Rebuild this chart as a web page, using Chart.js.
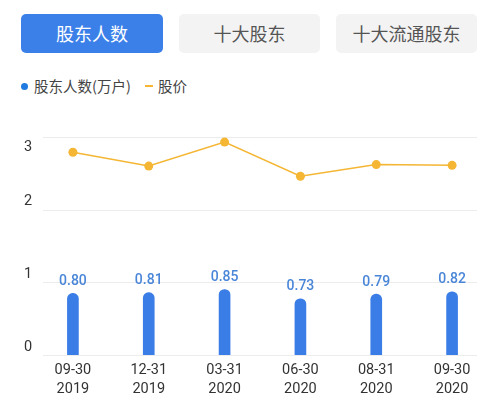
<!DOCTYPE html>
<html><head><meta charset="utf-8">
<script src="https://cdn.jsdelivr.net/npm/chart.js@4"></script>
<style>
html,body{margin:0;padding:0;background:#fff;width:499px;height:405px;overflow:hidden;font-family:"Noto Sans CJK SC",sans-serif;}
.btn{position:absolute;top:14px;height:39px;border-radius:5px;font-size:18px;line-height:39px;text-align:center;}
.b1{left:21px;width:142px;background:#3b80e8;color:#fff;}
.b2{left:179px;width:141px;background:#f3f3f3;color:#555;}
.b3{left:336px;width:141px;background:#f3f3f3;color:#555;}
.leg{position:absolute;top:76px;font-size:14.5px;color:#444;line-height:20px;}
#wrap{position:absolute;left:0;top:110px;width:499px;height:295px;}
</style></head><body>
<div class="btn b1">股东人数</div>
<div class="btn b2">十大股东</div>
<div class="btn b3">十大流通股东</div>
<div style="position:absolute;left:21px;top:83px;width:7px;height:7px;border-radius:50%;background:#1f7be0"></div>
<div class="leg" style="left:34px">股东人数(万户)</div>
<div style="position:absolute;left:145px;top:85px;width:8px;height:2px;background:#f4b633"></div>
<div class="leg" style="left:158px">股价</div>
<div id="wrap"><canvas id="c"></canvas></div>
<script>
const categories = [["09-30","2019"],["12-31","2019"],["03-31","2020"],["06-30","2020"],["08-31","2020"],["09-30","2020"]];
const holders = [0.80,0.81,0.85,0.73,0.79,0.82];
const price = [2.79,2.60,2.93,2.46,2.62,2.61];
const yTicks = [0,1,2,3];

const overlay = {
  id:'overlay',
  beforeDatasetsDraw(chart){
    const ctx=chart.ctx, y=chart.scales.y;
    ctx.save();
    ctx.strokeStyle='#ececec';ctx.lineWidth=1;
    yTicks.forEach(v=>{const py=Math.round(y.getPixelForValue(v))+0.5;ctx.beginPath();ctx.moveTo(43,py);ctx.lineTo(477,py);ctx.stroke();});
    ctx.fillStyle='#333';ctx.font='14.5px Roboto, "Noto Sans CJK SC"';ctx.textAlign='center';ctx.textBaseline='middle';
    yTicks.forEach((v,i)=>{const py=y.getPixelForValue(v)+(i===yTicks.length-1?10:-8);ctx.fillText(String(v),28,py);});
    ctx.restore();
  },
  afterDatasetsDraw(chart){
    const ctx=chart.ctx, meta=chart.getDatasetMeta(0);
    ctx.save();
    ctx.fillStyle='#4a86d8';ctx.font='500 14px Roboto, "Noto Sans CJK SC"';ctx.textAlign='center';ctx.textBaseline='middle';
    meta.data.forEach((el,i)=>{ctx.fillText(holders[i].toFixed(2),el.x,el.y-12);});
    ctx.restore();
  }
};

new Chart(document.getElementById('c'),{
  data:{labels:categories,datasets:[
    {type:'bar',data:holders,yAxisID:'y1',backgroundColor:'#3a7de6',barThickness:11,borderRadius:{topLeft:6,topRight:6},borderSkipped:'bottom',order:2},
    {type:'line',data:price,yAxisID:'y',borderColor:'#f4b633',backgroundColor:'#f4b633',borderWidth:1.5,pointRadius:4.5,pointBackgroundColor:'#f4b633',pointBorderWidth:0,tension:0,order:1}
  ]},
  options:{responsive:true,maintainAspectRatio:false,animation:false,
    layout:{padding:{top:27,right:9,left:0,bottom:0}},
    plugins:{legend:{display:false},tooltip:{enabled:false}},
    scales:{
      x:{grid:{display:false,drawTicks:false,tickLength:0},border:{display:false},ticks:{color:'#333',font:{size:14.5,family:'Roboto, "Noto Sans CJK SC"',lineHeight:1.32},padding:6,maxRotation:0},afterFit(s){s.height=50;}},
      y:{min:0,max:3,grid:{display:false},border:{display:false},ticks:{display:false},afterFit(s){s.width=35;}},
      y1:{min:0,max:2.83,display:false}
    }
  },
  plugins:[overlay]
});
</script>
</body></html>
